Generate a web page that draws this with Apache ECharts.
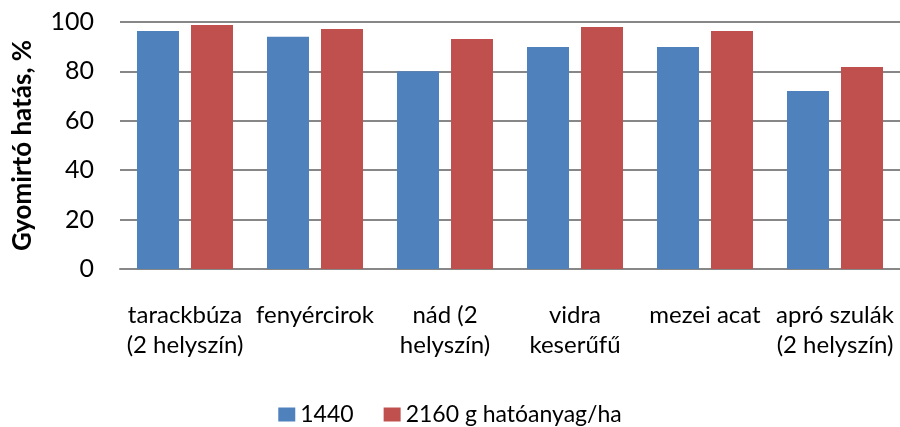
<!DOCTYPE html>
<html>
<head>
<meta charset="utf-8">
<script src="https://cdn.jsdelivr.net/npm/echarts@6/dist/echarts.min.js"></script>
<style>html,body{margin:0;padding:0;background:#fff}#c{width:900px;height:427px}</style>
</head>
<body>
<div id="c"></div>
<script>
const categories = ['tarackbúza\n(2 helyszín)', 'fenyércirok', 'nád (2\nhelyszín)', 'vidra\nkeserűfű', 'mezei acat', 'apró szulák\n(2 helyszín)'];
const seriesNames = ['1440', '2160 g hatóanyag/ha'];
const values1440 = [96.4, 94.0, 80.1, 89.9, 89.9, 72.1];
const values2160 = [98.8, 97.2, 93.1, 98.0, 96.4, 81.8];
const yTicks = [0, 20, 40, 60, 80, 100];

const FONT = 'Lato, "Liberation Sans", sans-serif';
const chart = echarts.init(document.getElementById('c'));
chart.setOption({
  animation: false,
  grid: { left: 120, right: 0, top: 22, bottom: 158 },
  legend: {
    top: 403, left: 'center', padding: 0,
    itemWidth: 17, itemHeight: 14, itemGap: 30,
    icon: 'rect',
    textStyle: { fontFamily: FONT, fontSize: 23, color: '#000' },
    data: seriesNames
  },
  xAxis: {
    type: 'category',
    data: categories,
    axisTick: { show: false },
    axisLine: { lineStyle: { color: '#878787', width: 2 } },
    axisLabel: { fontFamily: FONT, fontSize: 24, color: '#000', lineHeight: 30, margin: 31, interval: 0 }
  },
  yAxis: {
    type: 'value',
    min: yTicks[0], max: yTicks[yTicks.length - 1], interval: 20,
    name: 'Gyomirtó hatás, %',
    nameLocation: 'middle',
    nameGap: 84,
    nameTextStyle: { fontFamily: FONT, fontSize: 26, fontWeight: 'bold', color: '#000' },
    axisLine: { show: false },
    axisTick: { show: false },
    splitLine: { lineStyle: { color: '#878787', width: 2 } },
    axisLabel: { fontFamily: FONT, fontSize: 25, color: '#000', margin: 26 }
  },
  series: [
    { name: seriesNames[0], type: 'bar', data: values1440, barWidth: 42, barGap: '28.6%', itemStyle: { color: '#4F81BD' } },
    { name: seriesNames[1], type: 'bar', data: values2160, barWidth: 42, barGap: '28.6%', itemStyle: { color: '#C0504D' } }
  ]
});
</script>
</body>
</html>
